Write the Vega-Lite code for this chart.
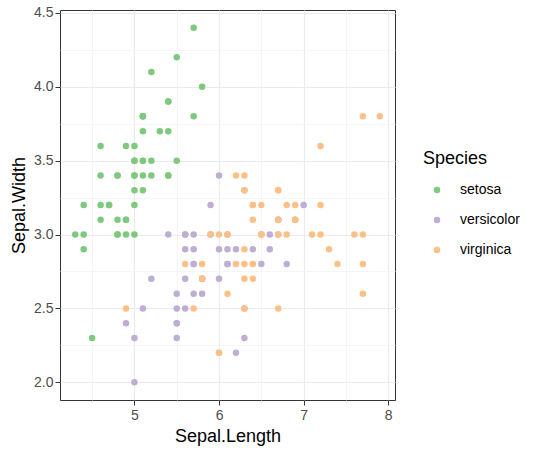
{
  "$schema": "https://vega.github.io/schema/vega-lite/v6.json",
  "autosize": "none",
  "width": 335,
  "height": 390,
  "padding": {"left": 60, "top": 10, "right": 145, "bottom": 56},
  "background": "white",
  "config": {
    "font": "Liberation Sans",
    "view": {"stroke": "#333333", "strokeWidth": 1}
  },
  "data": {"values": [
    {"SepalLength":5.1,"SepalWidth":3.5,"Species":"setosa"},
    {"SepalLength":4.9,"SepalWidth":3.0,"Species":"setosa"},
    {"SepalLength":4.7,"SepalWidth":3.2,"Species":"setosa"},
    {"SepalLength":4.6,"SepalWidth":3.1,"Species":"setosa"},
    {"SepalLength":5.0,"SepalWidth":3.6,"Species":"setosa"},
    {"SepalLength":5.4,"SepalWidth":3.9,"Species":"setosa"},
    {"SepalLength":4.6,"SepalWidth":3.4,"Species":"setosa"},
    {"SepalLength":5.0,"SepalWidth":3.4,"Species":"setosa"},
    {"SepalLength":4.4,"SepalWidth":2.9,"Species":"setosa"},
    {"SepalLength":4.9,"SepalWidth":3.1,"Species":"setosa"},
    {"SepalLength":5.4,"SepalWidth":3.7,"Species":"setosa"},
    {"SepalLength":4.8,"SepalWidth":3.4,"Species":"setosa"},
    {"SepalLength":4.8,"SepalWidth":3.0,"Species":"setosa"},
    {"SepalLength":4.3,"SepalWidth":3.0,"Species":"setosa"},
    {"SepalLength":5.8,"SepalWidth":4.0,"Species":"setosa"},
    {"SepalLength":5.7,"SepalWidth":4.4,"Species":"setosa"},
    {"SepalLength":5.4,"SepalWidth":3.9,"Species":"setosa"},
    {"SepalLength":5.1,"SepalWidth":3.5,"Species":"setosa"},
    {"SepalLength":5.7,"SepalWidth":3.8,"Species":"setosa"},
    {"SepalLength":5.1,"SepalWidth":3.8,"Species":"setosa"},
    {"SepalLength":5.4,"SepalWidth":3.4,"Species":"setosa"},
    {"SepalLength":5.1,"SepalWidth":3.7,"Species":"setosa"},
    {"SepalLength":4.6,"SepalWidth":3.6,"Species":"setosa"},
    {"SepalLength":5.1,"SepalWidth":3.3,"Species":"setosa"},
    {"SepalLength":4.8,"SepalWidth":3.4,"Species":"setosa"},
    {"SepalLength":5.0,"SepalWidth":3.0,"Species":"setosa"},
    {"SepalLength":5.0,"SepalWidth":3.4,"Species":"setosa"},
    {"SepalLength":5.2,"SepalWidth":3.5,"Species":"setosa"},
    {"SepalLength":5.2,"SepalWidth":3.4,"Species":"setosa"},
    {"SepalLength":4.7,"SepalWidth":3.2,"Species":"setosa"},
    {"SepalLength":4.8,"SepalWidth":3.1,"Species":"setosa"},
    {"SepalLength":5.4,"SepalWidth":3.4,"Species":"setosa"},
    {"SepalLength":5.2,"SepalWidth":4.1,"Species":"setosa"},
    {"SepalLength":5.5,"SepalWidth":4.2,"Species":"setosa"},
    {"SepalLength":4.9,"SepalWidth":3.1,"Species":"setosa"},
    {"SepalLength":5.0,"SepalWidth":3.2,"Species":"setosa"},
    {"SepalLength":5.5,"SepalWidth":3.5,"Species":"setosa"},
    {"SepalLength":4.9,"SepalWidth":3.6,"Species":"setosa"},
    {"SepalLength":4.4,"SepalWidth":3.0,"Species":"setosa"},
    {"SepalLength":5.1,"SepalWidth":3.4,"Species":"setosa"},
    {"SepalLength":5.0,"SepalWidth":3.5,"Species":"setosa"},
    {"SepalLength":4.5,"SepalWidth":2.3,"Species":"setosa"},
    {"SepalLength":4.4,"SepalWidth":3.2,"Species":"setosa"},
    {"SepalLength":5.0,"SepalWidth":3.5,"Species":"setosa"},
    {"SepalLength":5.1,"SepalWidth":3.8,"Species":"setosa"},
    {"SepalLength":4.8,"SepalWidth":3.0,"Species":"setosa"},
    {"SepalLength":5.1,"SepalWidth":3.8,"Species":"setosa"},
    {"SepalLength":4.6,"SepalWidth":3.2,"Species":"setosa"},
    {"SepalLength":5.3,"SepalWidth":3.7,"Species":"setosa"},
    {"SepalLength":5.0,"SepalWidth":3.3,"Species":"setosa"},
    {"SepalLength":7.0,"SepalWidth":3.2,"Species":"versicolor"},
    {"SepalLength":6.4,"SepalWidth":3.2,"Species":"versicolor"},
    {"SepalLength":6.9,"SepalWidth":3.1,"Species":"versicolor"},
    {"SepalLength":5.5,"SepalWidth":2.3,"Species":"versicolor"},
    {"SepalLength":6.5,"SepalWidth":2.8,"Species":"versicolor"},
    {"SepalLength":5.7,"SepalWidth":2.8,"Species":"versicolor"},
    {"SepalLength":6.3,"SepalWidth":3.3,"Species":"versicolor"},
    {"SepalLength":4.9,"SepalWidth":2.4,"Species":"versicolor"},
    {"SepalLength":6.6,"SepalWidth":2.9,"Species":"versicolor"},
    {"SepalLength":5.2,"SepalWidth":2.7,"Species":"versicolor"},
    {"SepalLength":5.0,"SepalWidth":2.0,"Species":"versicolor"},
    {"SepalLength":5.9,"SepalWidth":3.0,"Species":"versicolor"},
    {"SepalLength":6.0,"SepalWidth":2.2,"Species":"versicolor"},
    {"SepalLength":6.1,"SepalWidth":2.9,"Species":"versicolor"},
    {"SepalLength":5.6,"SepalWidth":2.9,"Species":"versicolor"},
    {"SepalLength":6.7,"SepalWidth":3.1,"Species":"versicolor"},
    {"SepalLength":5.6,"SepalWidth":3.0,"Species":"versicolor"},
    {"SepalLength":5.8,"SepalWidth":2.7,"Species":"versicolor"},
    {"SepalLength":6.2,"SepalWidth":2.2,"Species":"versicolor"},
    {"SepalLength":5.6,"SepalWidth":2.5,"Species":"versicolor"},
    {"SepalLength":5.9,"SepalWidth":3.2,"Species":"versicolor"},
    {"SepalLength":6.1,"SepalWidth":2.8,"Species":"versicolor"},
    {"SepalLength":6.3,"SepalWidth":2.5,"Species":"versicolor"},
    {"SepalLength":6.1,"SepalWidth":2.8,"Species":"versicolor"},
    {"SepalLength":6.4,"SepalWidth":2.9,"Species":"versicolor"},
    {"SepalLength":6.6,"SepalWidth":3.0,"Species":"versicolor"},
    {"SepalLength":6.8,"SepalWidth":2.8,"Species":"versicolor"},
    {"SepalLength":6.7,"SepalWidth":3.0,"Species":"versicolor"},
    {"SepalLength":6.0,"SepalWidth":2.9,"Species":"versicolor"},
    {"SepalLength":5.7,"SepalWidth":2.6,"Species":"versicolor"},
    {"SepalLength":5.5,"SepalWidth":2.4,"Species":"versicolor"},
    {"SepalLength":5.5,"SepalWidth":2.4,"Species":"versicolor"},
    {"SepalLength":5.8,"SepalWidth":2.7,"Species":"versicolor"},
    {"SepalLength":6.0,"SepalWidth":2.7,"Species":"versicolor"},
    {"SepalLength":5.4,"SepalWidth":3.0,"Species":"versicolor"},
    {"SepalLength":6.0,"SepalWidth":3.4,"Species":"versicolor"},
    {"SepalLength":6.7,"SepalWidth":3.1,"Species":"versicolor"},
    {"SepalLength":6.3,"SepalWidth":2.3,"Species":"versicolor"},
    {"SepalLength":5.6,"SepalWidth":3.0,"Species":"versicolor"},
    {"SepalLength":5.5,"SepalWidth":2.5,"Species":"versicolor"},
    {"SepalLength":5.5,"SepalWidth":2.6,"Species":"versicolor"},
    {"SepalLength":6.1,"SepalWidth":3.0,"Species":"versicolor"},
    {"SepalLength":5.8,"SepalWidth":2.6,"Species":"versicolor"},
    {"SepalLength":5.0,"SepalWidth":2.3,"Species":"versicolor"},
    {"SepalLength":5.6,"SepalWidth":2.7,"Species":"versicolor"},
    {"SepalLength":5.7,"SepalWidth":3.0,"Species":"versicolor"},
    {"SepalLength":5.7,"SepalWidth":2.9,"Species":"versicolor"},
    {"SepalLength":6.2,"SepalWidth":2.9,"Species":"versicolor"},
    {"SepalLength":5.1,"SepalWidth":2.5,"Species":"versicolor"},
    {"SepalLength":5.7,"SepalWidth":2.8,"Species":"versicolor"},
    {"SepalLength":6.3,"SepalWidth":3.3,"Species":"virginica"},
    {"SepalLength":5.8,"SepalWidth":2.7,"Species":"virginica"},
    {"SepalLength":7.1,"SepalWidth":3.0,"Species":"virginica"},
    {"SepalLength":6.3,"SepalWidth":2.9,"Species":"virginica"},
    {"SepalLength":6.5,"SepalWidth":3.0,"Species":"virginica"},
    {"SepalLength":7.6,"SepalWidth":3.0,"Species":"virginica"},
    {"SepalLength":4.9,"SepalWidth":2.5,"Species":"virginica"},
    {"SepalLength":7.3,"SepalWidth":2.9,"Species":"virginica"},
    {"SepalLength":6.7,"SepalWidth":2.5,"Species":"virginica"},
    {"SepalLength":7.2,"SepalWidth":3.6,"Species":"virginica"},
    {"SepalLength":6.5,"SepalWidth":3.2,"Species":"virginica"},
    {"SepalLength":6.4,"SepalWidth":2.7,"Species":"virginica"},
    {"SepalLength":6.8,"SepalWidth":3.0,"Species":"virginica"},
    {"SepalLength":5.7,"SepalWidth":2.5,"Species":"virginica"},
    {"SepalLength":5.8,"SepalWidth":2.8,"Species":"virginica"},
    {"SepalLength":6.4,"SepalWidth":3.2,"Species":"virginica"},
    {"SepalLength":6.5,"SepalWidth":3.0,"Species":"virginica"},
    {"SepalLength":7.7,"SepalWidth":3.8,"Species":"virginica"},
    {"SepalLength":7.7,"SepalWidth":2.6,"Species":"virginica"},
    {"SepalLength":6.0,"SepalWidth":2.2,"Species":"virginica"},
    {"SepalLength":6.9,"SepalWidth":3.2,"Species":"virginica"},
    {"SepalLength":5.6,"SepalWidth":2.8,"Species":"virginica"},
    {"SepalLength":7.7,"SepalWidth":2.8,"Species":"virginica"},
    {"SepalLength":6.3,"SepalWidth":2.7,"Species":"virginica"},
    {"SepalLength":6.7,"SepalWidth":3.3,"Species":"virginica"},
    {"SepalLength":7.2,"SepalWidth":3.2,"Species":"virginica"},
    {"SepalLength":6.2,"SepalWidth":2.8,"Species":"virginica"},
    {"SepalLength":6.1,"SepalWidth":3.0,"Species":"virginica"},
    {"SepalLength":6.4,"SepalWidth":2.8,"Species":"virginica"},
    {"SepalLength":7.2,"SepalWidth":3.0,"Species":"virginica"},
    {"SepalLength":7.4,"SepalWidth":2.8,"Species":"virginica"},
    {"SepalLength":7.9,"SepalWidth":3.8,"Species":"virginica"},
    {"SepalLength":6.4,"SepalWidth":2.8,"Species":"virginica"},
    {"SepalLength":6.3,"SepalWidth":2.8,"Species":"virginica"},
    {"SepalLength":6.1,"SepalWidth":2.6,"Species":"virginica"},
    {"SepalLength":7.7,"SepalWidth":3.0,"Species":"virginica"},
    {"SepalLength":6.3,"SepalWidth":3.4,"Species":"virginica"},
    {"SepalLength":6.4,"SepalWidth":3.1,"Species":"virginica"},
    {"SepalLength":6.0,"SepalWidth":3.0,"Species":"virginica"},
    {"SepalLength":6.9,"SepalWidth":3.1,"Species":"virginica"},
    {"SepalLength":6.7,"SepalWidth":3.1,"Species":"virginica"},
    {"SepalLength":6.9,"SepalWidth":3.1,"Species":"virginica"},
    {"SepalLength":5.8,"SepalWidth":2.7,"Species":"virginica"},
    {"SepalLength":6.8,"SepalWidth":3.2,"Species":"virginica"},
    {"SepalLength":6.7,"SepalWidth":3.3,"Species":"virginica"},
    {"SepalLength":6.7,"SepalWidth":3.0,"Species":"virginica"},
    {"SepalLength":6.3,"SepalWidth":2.5,"Species":"virginica"},
    {"SepalLength":6.5,"SepalWidth":3.0,"Species":"virginica"},
    {"SepalLength":6.2,"SepalWidth":3.4,"Species":"virginica"},
    {"SepalLength":5.9,"SepalWidth":3.0,"Species":"virginica"}
  ]},
  "mark": {"type": "point", "filled": true, "opacity": 1, "size": 42, "shape": "circle"},
  "encoding": {
    "x": {
      "field": "SepalLength", "type": "quantitative",
      "scale": {"domain": [4.12, 8.08], "nice": false, "zero": false},
      "axis": {
        "title": "Sepal.Length",
        "values": [4.5, 5, 5.5, 6, 6.5, 7, 7.5, 8],
        "labelExpr": "datum.value % 1 == 0 ? format(datum.value, 'd') : ''",
        "labelColor": "#4D4D4D", "labelFontSize": 14, "labelPadding": 3,
        "titleFontSize": 18, "titleFontWeight": "normal", "titleColor": "black", "titlePadding": 5,
        "domain": false,
        "tickColor": "#333333", "tickSize": 5,
        "tickOpacity": {"condition": {"test": "datum.value % 1 == 0", "value": 1}, "value": 0},
        "gridColor": {"condition": {"test": "datum.value % 1 == 0", "value": "#EBEBEB"}, "value": "#F2F2F2"},
        "gridWidth": {"condition": {"test": "datum.value % 1 == 0", "value": 1.2}, "value": 0.8}
      }
    },
    "y": {
      "field": "SepalWidth", "type": "quantitative",
      "scale": {"domain": [1.88, 4.52], "nice": false, "zero": false},
      "axis": {
        "title": "Sepal.Width",
        "values": [2.0, 2.25, 2.5, 2.75, 3.0, 3.25, 3.5, 3.75, 4.0, 4.25, 4.5],
        "labelExpr": "(datum.value * 2) % 1 == 0 ? format(datum.value, '.1f') : ''",
        "labelColor": "#4D4D4D", "labelFontSize": 14, "labelPadding": 2,
        "titleFontSize": 18, "titleFontWeight": "normal", "titleColor": "black", "titlePadding": 5,
        "domain": false,
        "tickColor": "#333333", "tickSize": 5,
        "tickOpacity": {"condition": {"test": "(datum.value * 2) % 1 == 0", "value": 1}, "value": 0},
        "gridColor": {"condition": {"test": "(datum.value * 2) % 1 == 0", "value": "#EBEBEB"}, "value": "#F2F2F2"},
        "gridWidth": {"condition": {"test": "(datum.value * 2) % 1 == 0", "value": 1.2}, "value": 0.8}
      }
    },
    "color": {
      "field": "Species", "type": "nominal",
      "scale": {"domain": ["setosa", "versicolor", "virginica"], "range": ["#7FC97F", "#BEAED4", "#FDC086"]},
      "legend": {
        "orient": "none", "legendX": 363, "legendY": 140,
        "title": "Species", "titleFontSize": 18, "titleFontWeight": "normal", "titleColor": "black",
        "titlePadding": 15,
        "labelFontSize": 14, "labelColor": "black", "labelOffset": 16,
        "symbolSize": 42, "symbolType": "circle", "symbolStrokeWidth": 0, "symbolOffset": 7,
        "rowPadding": 16, "padding": 0
      }
    }
  }
}
